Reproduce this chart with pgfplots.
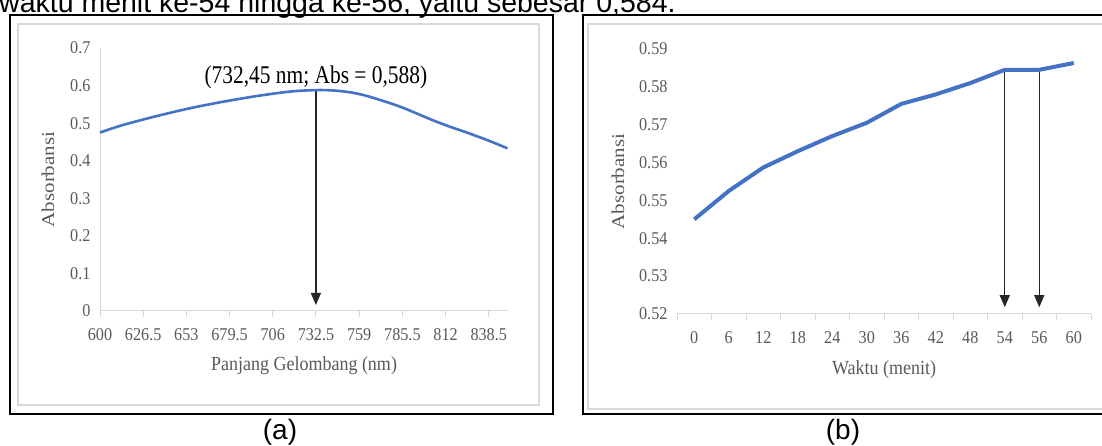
\documentclass[border=0pt]{standalone}
\usepackage{fontspec}
\setmainfont{Liberation Serif}
\newfontfamily\chartfont[FakeStretch=0.9]{Liberation Serif}
\newfontfamily\annfont[FakeStretch=0.84]{Liberation Serif}
\newfontfamily\docfont{Liberation Sans}
\usepackage{graphicx}
\usepackage{pgfplots}
\pgfplotsset{compat=1.18}
\usetikzlibrary{arrows.meta}

\definecolor{xlblue}{HTML}{4472C4}
\definecolor{xlgray}{HTML}{595959}
\definecolor{xlline}{HTML}{D9D9D9}

\pgfplotsset{
  xlstyle/.style={
    scale only axis,
    axis x line*=bottom, axis y line*=left,
    axis line style={draw=xlline, line width=1pt, -},
    tick align=outside,
    major tick length=6pt,
    xtick style={draw=xlline, line width=1pt},
    ytick style={draw=none},
    tick label style={font=\fontsize{18}{20}\chartfont, text=xlgray},
    xticklabel style={anchor=north, yshift=-8pt},
    xlabel style={font=\fontsize{20}{22}\chartfont, text=xlgray,
      at={(axis description cs:0.5,0)}, anchor=center},
    ylabel style={font=\fontsize{21}{22}\rmfamily, text=xlgray,
      at={(axis description cs:0,0.5)}, anchor=center},
    clip=false,
  }
}

\begin{document}
\begin{tikzpicture}[x=1pt,y=1pt]
\useasboundingbox (0,0) rectangle (1102,446);
\clip (0,0) rectangle (1102,446);

% text of the page around the two figures
\node[anchor=base west, inner sep=0, font=\fontsize{28.5}{30}\docfont]
  at (-1,433) {waktu menit ke-54 hingga ke-56, yaitu sebesar 0,584.};
\node[anchor=base, inner sep=0, font=\fontsize{28}{30}\docfont] at (280,6.6) {(a)};
\node[anchor=base, inner sep=0, font=\fontsize{28}{30}\docfont] at (843,6.6) {(b)};

% frames
\draw[line width=2pt] (9.5,32) rectangle (553,431);
\draw[xlline, line width=1.2pt] (18,41) rectangle (539,422);
\draw[line width=2pt] (583,32) rectangle (1125,431);
\draw[xlline, line width=1.2pt] (588,37) rectangle (1118,422);

% (a) spectrum
\begin{axis}[xlstyle,
  at={(100pt,135pt)}, anchor=south west,
  width=408pt, height=263pt,
  xmin=600, xmax=850.3, ymin=0, ymax=0.7,
  xtick={600,626.5,653,679.5,706,732.5,759,785.5,812,838.5},
  xticklabels={600,626.5,653,679.5,706,732.5,759,785.5,812,838.5},
  ytick={0,0.1,0.2,0.3,0.4,0.5,0.6,0.7},
  yticklabels={0,0.1,0.2,0.3,0.4,0.5,0.6,0.7},
  xlabel={Panjang Gelombang (nm)},
  ylabel={\scalebox{1}[0.86]{Absorbansi}},
  xlabel style={yshift=-55pt},
  ylabel style={yshift=52pt},
]
\draw[-{Triangle[width=10pt,length=12pt]}, line width=1.3pt, black!85]
  (axis cs:732.45,0.588) -- (axis cs:732.45,0.016);
\addplot[xlblue, line width=2.6pt, smooth, tension=0.5] table {
x y
600 0.475
614 0.495
635 0.519
655 0.5395
675.5 0.557
696 0.572
716.5 0.584
732.45 0.588
743 0.587
753.5 0.582
764 0.572
784 0.544
804 0.508
815 0.490
825 0.475
837.5 0.455
850 0.433
};
\node[font=\fontsize{25.5}{27}\annfont, text=black]
  at (axis cs:732.45,0.623) {(732,45 nm; Abs = 0,588)};
\end{axis}

% (b) absorbance against time
\begin{axis}[xlstyle,
  at={(677pt,132pt)}, anchor=south west,
  width=414pt, height=265pt,
  y axis line style={draw=none},
  xmin=-0.5, xmax=11.5, ymin=0.52, ymax=0.59,
  xtick={-0.5,0.5,1.5,2.5,3.5,4.5,5.5,6.5,7.5,8.5,9.5,10.5,11.5},
  x tick label as interval,
  xticklabels={0,6,12,18,24,30,36,42,48,54,56,60},
  ytick={0.52,0.53,0.54,0.55,0.56,0.57,0.58,0.59},
  yticklabels={0.52,0.53,0.54,0.55,0.56,0.57,0.58,0.59},
  xlabel={Waktu (menit)},
  ylabel={\scalebox{1}[0.86]{Absorbansi}},
  xlabel style={yshift=-56pt},
  ylabel style={yshift=59pt},
]
\draw[-{Triangle[width=10pt,length=12pt]}, line width=1.3pt, black!85]
  (axis cs:9,0.5845) -- (axis cs:9,0.5218);
\draw[-{Triangle[width=10pt,length=12pt]}, line width=1.3pt, black!85]
  (axis cs:10,0.5845) -- (axis cs:10,0.5218);
\addplot[xlblue, line width=4pt, line join=round] table {
x y
0 0.545
1 0.5525
2 0.5587
3 0.563
4 0.567
5 0.5705
6 0.5755
7 0.578
8 0.581
9 0.5845
10 0.5845
11 0.5863
};
\end{axis}
\end{tikzpicture}
\end{document}
